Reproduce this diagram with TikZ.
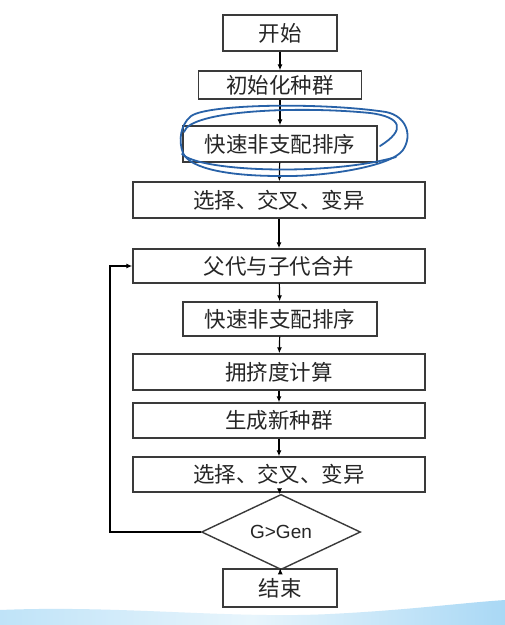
\documentclass[tikz,border=0pt]{standalone}
\usepackage{fontspec}
\newfontfamily\cjk{Noto Sans CJK SC}
\newfontfamily\latinsans{Liberation Sans}
\usetikzlibrary{arrows.meta,shapes.geometric}
\definecolor{boxline}{HTML}{3A3A3A}
\definecolor{penblue}{HTML}{2862A8}
\definecolor{bandA}{HTML}{BFE3F8}
\definecolor{bandB}{HTML}{E8F5FC}
\definecolor{bandC}{HTML}{A9D8F5}
\tikzset{
  stepbox/.style={draw=boxline, line width=1.4pt, fill=white, inner sep=0pt,
    text=black!85, font=\cjk\fontsize{21.5}{21.5}\selectfont},
  decide/.style={draw=boxline, line width=1.4pt, fill=white, shape=diamond,
    inner sep=0pt, minimum width=159pt, minimum height=44pt,
    text=black!85, font=\latinsans\fontsize{19}{19}\selectfont},
  flow/.style={draw=black, line width=1.2pt, -{Latex[length=6pt,width=5pt]}},
  pen/.style={draw=penblue, line width=1.8pt, line cap=round, line join=round}
}
\begin{document}
\begin{tikzpicture}[x=1pt,y=-1pt]
  \fill[white] (0,0) rectangle (505,625);
  \useasboundingbox (0,0) rectangle (505,625);

  % soft blue band along the bottom edge
  \shade[left color=bandA, right color=bandC, middle color=bandB]
    (0,610) .. controls (120,605) and (230,619) .. (330,614)
    .. controls (410,610) and (460,603) .. (505,600)
    -- (505,625) -- (0,625) -- cycle;

  % flow steps
  \node[stepbox, minimum width=114pt, minimum height=36pt] (start)  at (280,33)    {开始};
  \node[stepbox, minimum width=163pt, minimum height=28pt] (init)   at (280,85)    {初始化种群};
  \node[stepbox, minimum width=194pt, minimum height=36pt] (nds1)   at (280,144)   {快速非支配排序};
  \node[stepbox, minimum width=292pt, minimum height=36pt] (sel1)   at (279,200)   {选择、交叉、变异};
  \node[stepbox, minimum width=292pt, minimum height=34pt] (merge)  at (279,266)   {父代与子代合并};
  \node[stepbox, minimum width=194pt, minimum height=34pt] (nds2)   at (280,319)   {快速非支配排序};
  \node[stepbox, minimum width=292pt, minimum height=36pt] (crowd)  at (279,372)   {拥挤度计算};
  \node[stepbox, minimum width=292pt, minimum height=35pt] (newpop) at (279,420.5) {生成新种群};
  \node[stepbox, minimum width=292pt, minimum height=35pt] (sel2)   at (279,474.5) {选择、交叉、变异};
  \node[decide] (check) at (281,532) {G>Gen};
  \node[stepbox, minimum width=114pt, minimum height=38pt] (stop)   at (280,588)   {结束};

  % connectors
  \draw[flow] (start)  -- (init);
  \draw[flow] (init)   -- (nds1);
  \draw[flow] (nds1)   -- (sel1);
  \draw[flow] (sel1)   -- (merge);
  \draw[flow] (merge)  -- (nds2);
  \draw[flow] (nds2)   -- (crowd);
  \draw[flow] (crowd)  -- (newpop);
  \draw[flow] (newpop) -- (sel2);
  \draw[flow] (sel2)   -- (check);
  \draw[flow] (check)  -- (stop);
  \coordinate (loopcorner) at (110,532);
  \draw[flow] (check.west) -- (loopcorner) |- (merge.west);

  % hand-drawn circling around the first sorting step
  \draw[pen] (190,117)
    .. controls (202,104) and (320,102) .. (386,112)
    .. controls (406,116) and (413,135) .. (403,150)
    .. controls (391,167) and (322,177) .. (280,176)
    .. controls (230,176) and (190,169) .. (183,153)
    .. controls (178,140) and (181,125) .. (190,117);
  \draw[pen] (184,132)
    .. controls (190,110) and (300,106) .. (370,113)
    .. controls (402,117) and (406,130) .. (380,146);
  \draw[pen] (182,154)
    .. controls (200,172) and (330,176) .. (396,157);
\end{tikzpicture}
\end{document}
